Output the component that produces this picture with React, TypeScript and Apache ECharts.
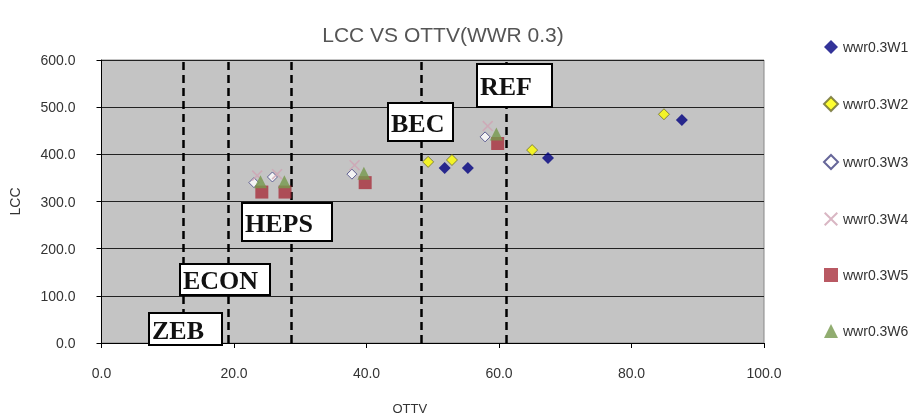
import React, { useEffect, useRef } from "react";
import * as echarts from "echarts";

const xTicks = [0, 20, 40, 60, 80, 100];
const yTicks = [0, 100, 200, 300, 400, 500, 600];

const seriesNames = ["wwr0.3W1", "wwr0.3W2", "wwr0.3W3", "wwr0.3W4", "wwr0.3W5", "wwr0.3W6"];
const w1 = [[51.8, 371], [55.3, 371], [67.4, 392], [87.6, 473]];
const w2 = [[49.3, 384], [52.9, 388], [65.0, 409], [84.9, 485]];
const w3 = [[23.0, 340], [25.8, 352], [37.8, 358], [57.9, 437]];
const w4 = [[23.5, 355], [26.5, 358], [38.2, 377], [58.3, 460]];
const w5 = [[24.2, 320], [27.7, 320], [39.8, 340], [59.8, 423]];
const w6 = [[24.0, 342], [27.6, 342], [39.6, 360], [59.6, 443]];

const thresholdNames = ["ZEB", "ECON", "HEPS", "BEC", "REF"];
const thresholdX = [12.3, 19.1, 28.6, 48.2, 61.1];
// annotation anchors (top-left of each box) in data coordinates
const annoX = [7.2, 11.8, 21.2, 43.2, 56.7];
const annoY = [64, 167, 297, 509, 591];
const annoW = [73, 90, 90, 65, 75];
const annoH = [32, 31, 38, 38, 43];

const crossPath =
  "path://M0,1L1,0L5,4L9,0L10,1L6,5L10,9L9,10L5,6L1,10L0,9L4,5Z";

const sans = "Liberation Sans, Arial, sans-serif";

export default function App() {
  const ref = useRef<HTMLDivElement>(null);
  useEffect(() => {
    if (!ref.current) return;
    const chart = echarts.init(ref.current, undefined, { renderer: "svg" });
    const styles = [
      { symbol: "diamond", symbolSize: 12, itemStyle: { color: "#000080" } },
      { symbol: "diamond", symbolSize: 11, itemStyle: { color: "#FFFF00", borderColor: "#6a6a30", borderWidth: 1 } },
      { symbol: "diamond", symbolSize: 10, itemStyle: { color: "#FFFFFF", borderColor: "#404080", borderWidth: 1 } },
      { symbol: crossPath, symbolSize: 11, itemStyle: { color: "#D0A4B4" } },
      { symbol: "rect", symbolSize: 13, itemStyle: { color: "#A8303C" } },
      { symbol: "triangle", symbolSize: 13, itemStyle: { color: "#76984C" } },
    ];
    const datas = [w1, w2, w3, w4, w5, w6];
    const series: any[] = datas.map((d, i) => ({
      name: seriesNames[i],
      type: "scatter",
      data: d,
      ...styles[i],
      z: 3 + i,
    }));
    series.push({
      name: "thresholds",
      type: "scatter",
      data: [],
      silent: true,
      markLine: {
        silent: true,
        symbol: "none",
        label: { show: false },
        lineStyle: { color: "#000", width: 2.5, type: [8, 5] },
        data: thresholdX.map((x) => ({ xAxis: x })),
      },
      z: 2,
    });
    chart.setOption({
      animation: false,
      title: {
        text: "LCC VS OTTV(WWR 0.3)",
        left: 438,
        top: 19,
        textAlign: "center",
        textStyle: { fontFamily: sans, fontSize: 21, fontWeight: "normal", color: "#555" },
      },
      legend: {
        orient: "vertical",
        left: 818,
        top: 35,
        itemGap: 42,
        itemWidth: 14,
        itemHeight: 14,
        data: seriesNames,
        textStyle: { fontFamily: sans, fontSize: 14, color: "#333" },
      },
      grid: {
        left: 101.5,
        right: 157,
        top: 60,
        bottom: 74,
        outerBoundsMode: "none",
        containLabel: false,
        show: true,
        backgroundColor: "#C4C4C4",
        borderColor: "#888",
        borderWidth: 1,
      },
      xAxis: {
        type: "value",
        min: xTicks[0],
        max: xTicks[xTicks.length - 1],
        interval: 20,
        name: "OTTV",
        nameLocation: "middle",
        nameGap: 59,
        nameTextStyle: { fontFamily: sans, fontSize: 13, color: "#333", padding: [0, 46, 0, 0] },
        axisLine: { lineStyle: { color: "#000", width: 1 } },
        axisTick: { show: true, length: 5, lineStyle: { color: "#000" } },
        axisLabel: { margin: 23, formatter: (v: number) => v.toFixed(1), fontFamily: sans, fontSize: 14, color: "#333" },
        splitLine: { show: false },
      },
      yAxis: {
        type: "value",
        min: yTicks[0],
        max: yTicks[yTicks.length - 1],
        interval: 100,
        name: "LCC",
        nameLocation: "middle",
        nameRotate: 90,
        nameGap: 80,
        nameTextStyle: { fontFamily: sans, fontSize: 14, color: "#333" },
        axisLine: { show: true, lineStyle: { color: "#000", width: 1 } },
        axisTick: { show: true, length: 5, lineStyle: { color: "#000" } },
        axisLabel: { margin: 26, formatter: (v: number) => v.toFixed(1), fontFamily: sans, fontSize: 14, color: "#333" },
        splitLine: { show: true, lineStyle: { color: "#222", width: 1 } },
      },
      series,
    });
    const graphics: any[] = [];
    thresholdNames.forEach((name, i) => {
      const p = chart.convertToPixel({ gridIndex: 0 }, [annoX[i], annoY[i]]) as number[];
      graphics.push({
        type: "rect",
        shape: { x: Math.round(p[0]), y: Math.round(p[1]), width: annoW[i], height: annoH[i] },
        style: { fill: "#fff", stroke: "#000", lineWidth: 2 },
        z: 100,
      });
      graphics.push({
        type: "text",
        x: Math.round(p[0]) + 3,
        y: Math.round(p[1]) + annoH[i] / 2 + 1,
        style: {
          text: name,
          font: "bold 26px 'Liberation Serif', 'Times New Roman', serif",
          fill: "#111",
          textVerticalAlign: "middle",
        },
        z: 101,
      });
    });
    chart.setOption({ graphic: graphics });
    return () => chart.dispose();
  }, []);
  return <div ref={ref} style={{ position: "fixed", left: 0, top: 0, width: 921, height: 417 }} />;
}
